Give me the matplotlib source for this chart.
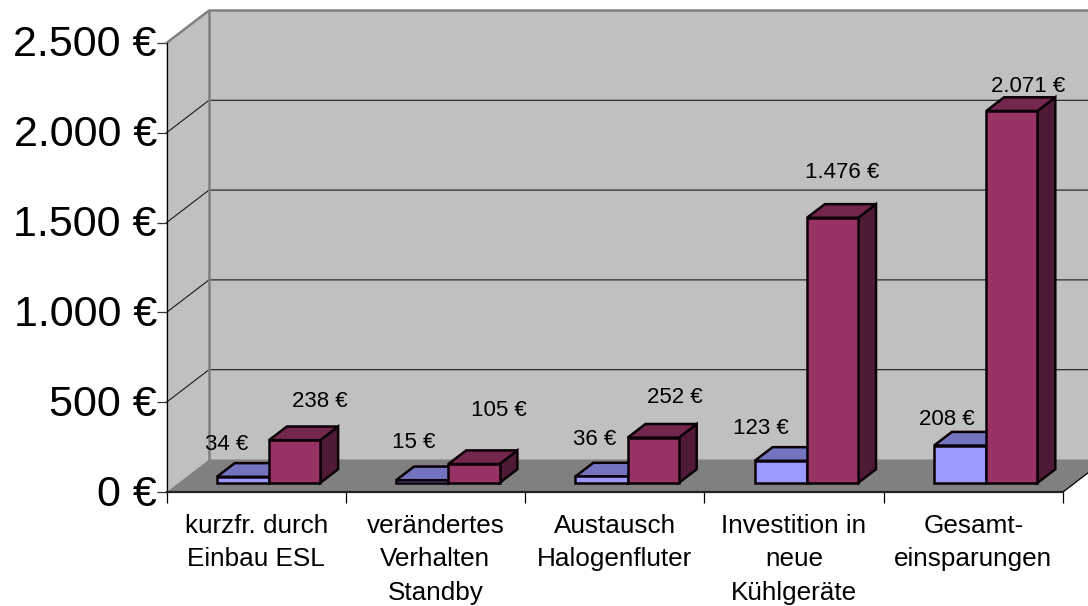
import matplotlib
matplotlib.use("Agg")
import matplotlib.pyplot as plt
from matplotlib.patches import Polygon
from matplotlib.transforms import Affine2D

plt.rcParams['font.family'] = ['Liberation Sans', 'DejaVu Sans']

categories = ["kurzfr. durch\nEinbau ESL", "verändertes\nVerhalten\nStandby", "Austausch\nHalogenfluter",
              "Investition in\nneue\nKühlgeräte", "Gesamt-\neinsparungen"]
series_blue = [34, 15, 36, 123, 208]
series_red = [238, 105, 252, 1476, 2071]
y_ticks = [0, 500, 1000, 1500, 2000, 2500]
y_tick_labels = ["0 €", "500 €", "1.000 €", "1.500 €", "2.000 €", "2.500 €"]
blue_labels = ["34 €", "15 €", "36 €", "123 €", "208 €"]
red_labels = ["238 €", "105 €", "252 €", "1.476 €", "2.071 €"]

# label offsets (pixels) from the front-top centre of each bar
blue_off = [(-15.5, 32.5), (-8.5, 38), (-6.5, 36.5), (-19.5, 32), (-12.5, 26)]
red_off = [(25.5, 39), (24.5, 54), (21.5, 40.6), (9.5, 45), (16.5, 24)]

W, H = 1088, 606
fig = plt.figure(figsize=(W / 100, H / 100), dpi=100, facecolor='white')
L, R, T, B = 166.5, 1063, 43, 492
ax = fig.add_axes([L / W, 1 - B / H, (R - L) / W, (B - T) / H])
n = len(categories)
ax.set_xlim(0, n)
ax.set_ylim(0, 2500)
ax.set_facecolor('none')
for s in ax.spines.values():
    s.set_visible(False)

# depth vector of the pseudo-3D box, in data units
CAT_PX = (R - L) / n
DX = 42.5 / CAT_PX
DY = 32.5 / ((B - T) / 2500)


def d3(x, y, d):
    return (x + DX * d, y + DY * d)


def poly(pts, fc, ec='none', lw=0, z=1, **kw):
    ax.add_patch(Polygon(pts, closed=True, facecolor=fc, edgecolor=ec, linewidth=lw,
                         zorder=z, clip_on=False, joinstyle='miter', **kw))


GRAY = '#808080'
WALL = '#C0C0C0'
ymax = y_ticks[-1]
# back wall
poly([d3(0, 0, 1), d3(n, 0, 1), d3(n, ymax, 1), d3(0, ymax, 1)], WALL)
# side wall
poly([d3(0, 0, 0), d3(0, 0, 1), d3(0, ymax, 1), d3(0, ymax, 0)], WALL)
# floor
poly([d3(0, 0, 0), d3(n, 0, 0), d3(n, 0, 1), d3(0, 0, 1)], GRAY)

# gridlines
for v in y_ticks[1:-1]:
    xs, ys = zip(d3(0, v, 0), d3(0, v, 1), d3(n, v, 1))
    ax.plot(xs, ys, color='#1a1a1a', lw=0.8, zorder=2, clip_on=False)
# wall edges
for pts in ([d3(0, 0, 1), d3(0, ymax, 1)], [d3(0, ymax, 0), d3(0, ymax, 1), d3(n, ymax, 1)]):
    xs, ys = zip(*pts)
    ax.plot(xs, ys, color=GRAY, lw=1.8, zorder=2, clip_on=False)
# axis lines
ax.plot([0, 0], [0, ymax], color='black', lw=0.9, zorder=3, clip_on=False)
ax.plot([0, n], [0, 0], color='#222222', lw=1.6, zorder=3, clip_on=False)
xs, ys = zip(d3(n, 0, 0), d3(n, 0, 1))
ax.plot(xs, ys, color='black', lw=0.9, zorder=3, clip_on=False)

# bars
BW = 51.2 / CAT_PX
PX = 1 / CAT_PX
D0, D1 = 0.28, 0.70
EDGE = '#0a0006'
LW = 1.8


def bar(x0, w, v, front, top, side, z):
    x1 = x0 + w
    poly([d3(x1, 0, D0), d3(x1, 0, D1), d3(x1, v, D1), d3(x1, v, D0)], side, EDGE, LW, z)
    poly([d3(x0, v, D0), d3(x1, v, D0), d3(x1, v, D1), d3(x0, v, D1)], top, EDGE, LW, z)
    poly([d3(x0, 0, D0), d3(x1, 0, D0), d3(x1, v, D0), d3(x0, v, D0)], front, EDGE, LW, z)


for i in range(n):
    xb = i + 0.5 - BW
    xr = i + 0.5 + PX
    bar(xb, BW + PX, series_blue[i], '#9999FF', '#7373BF', '#4D4D80', 4 + i * 0.1)
    bar(xr, BW, series_red[i], '#993366', '#73274D', '#4F1A35', 4.05 + i * 0.1)
    ax.annotate(blue_labels[i], xy=d3(xb + BW / 2, series_blue[i], D0), xytext=blue_off[i],
                textcoords='offset pixels', ha='center', va='center', fontsize=16,
                color='black', zorder=6, annotation_clip=False)
    ax.annotate(red_labels[i], xy=d3(xr + BW / 2, series_red[i], D0), xytext=red_off[i],
                textcoords='offset pixels', ha='center', va='center', fontsize=16,
                color='black', zorder=6, annotation_clip=False)

# ticks and labels
ax.set_yticks(y_ticks)
ax.set_yticklabels(y_tick_labels, fontsize=31, color='black')
ax.tick_params(axis='y', length=7, width=0.9, color='#333333', pad=0)
for lab in ax.get_yticklabels():
    lab.set_transform(lab.get_transform() + Affine2D().translate(0, 2))
ax.set_xticks(range(n + 1))
ax.set_xticklabels([])
ax.set_xticks([i + 0.5 for i in range(n)], minor=True)
ax.set_xticklabels(categories, minor=True, fontsize=18.8, color='black', linespacing=1.52)
ax.tick_params(axis='x', which='major', length=8, width=0.9, color='black')
ax.tick_params(axis='x', which='minor', length=0, pad=15.5)

fig.savefig('out.png', dpi=100, facecolor='white')
